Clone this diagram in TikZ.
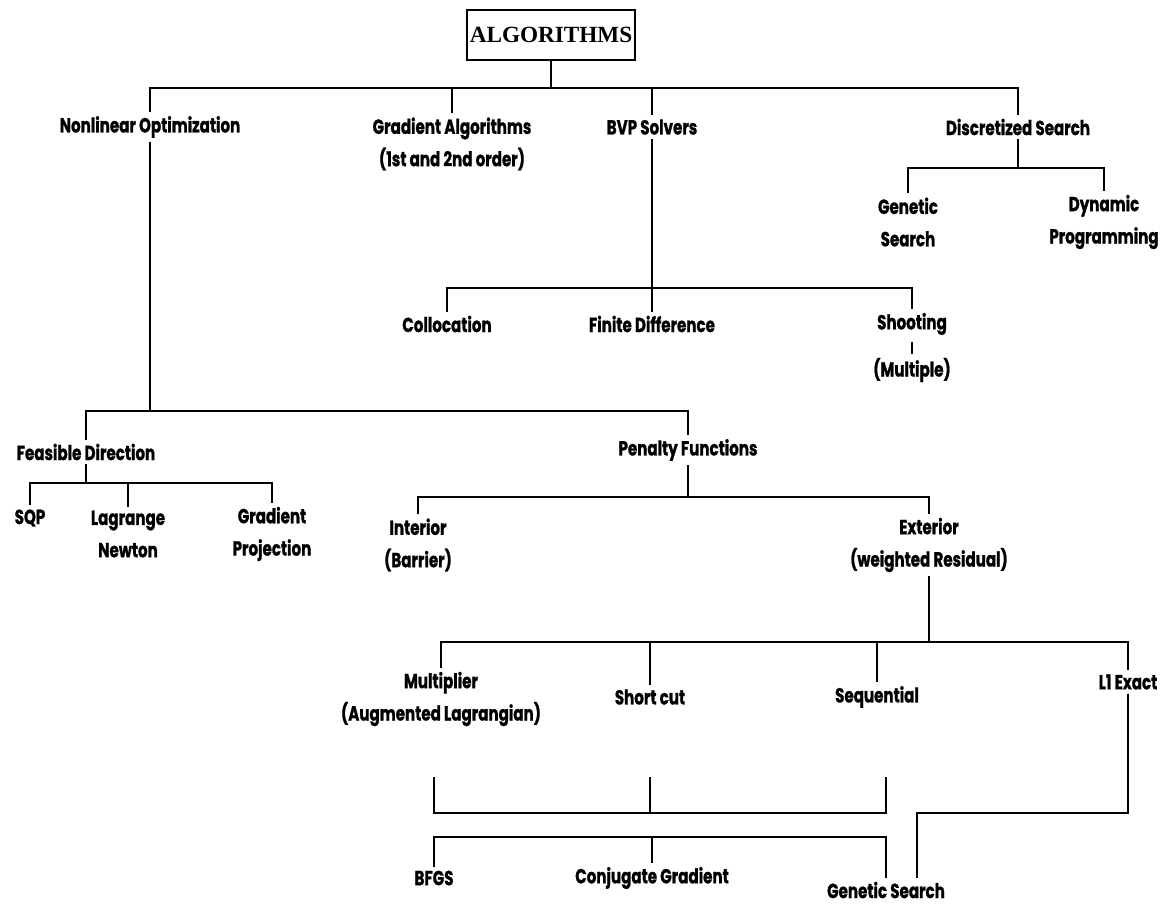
\documentclass[tikz,border=0pt]{standalone}
\usepackage{fontspec}
\setmainfont{Poppins}[FakeStretch=0.74, BoldFeatures={FakeBold=1}]
\newfontfamily\rootfont{Liberation Serif}

\begin{document}
\begin{tikzpicture}[x=0.025cm, y=-0.025cm, line width=1.8pt]
\tikzstyle{every node} = [font=\bfseries\fontsize{14.5}{23}\selectfont, align=center, inner sep=2pt]
\tikzstyle{rootbox} = [draw, line width=1.5pt, font=\rootfont\bfseries\fontsize{16.5}{18}\selectfont, minimum width=4.2cm, minimum height=1.25cm]
\useasboundingbox (0,0) rectangle (1173,905);

% bus heights
\coordinate (tbus) at (0,88);
\coordinate (dbus) at (0,168);
\coordinate (vbus) at (0,288);
\coordinate (nbus) at (0,411);
\coordinate (fbus) at (0,483);
\coordinate (pbus) at (0,497);
\coordinate (ebus) at (0,642);
\coordinate (jbus) at (0,813);
\coordinate (sbus) at (0,837);

\node[rootbox] (alg) at (551,35) {ALGORITHMS};

\node (nlo) at (150,127) {Nonlinear Optimization};
\node (grad) at (452,144) {Gradient Algorithms\\(1st and 2nd order)};
\node (bvp) at (652,127) {BVP Solvers};
\node (disc) at (1018,127) {Discretized Search};

\node (gen) at (908,222) {Genetic\\Search};
\node (dyn) at (1104,222) {Dynamic\\Programming};

\node (coll) at (447,324) {Collocation};
\node (fdiff) at (652,324) {Finite Difference};
\node (shoot) at (912,324) {Shooting};
\node (multip) at (912,370) {(Multiple)};

\node (feas) at (86,452) {Feasible Direction};
\node (pen) at (688,450) {Penalty Functions};

\node (sqp) at (30,518) {SQP};
\node (lag) at (128,534) {Lagrange\\Newton};
\node (gproj) at (272,534) {Gradient\\Projection};
\node (inter) at (418,545) {Interior\\(Barrier)};
\node (exter) at (929,545) {Exterior\\(weighted Residual)};

\node (multi) at (441,699) {Multiplier\\(Augmented Lagrangian)};
\node (short) at (650,697) {Short cut};
\node (seq) at (877,697) {Sequential};
\node (lone) at (1128,682) {L1 Exact};

\node (bfgs) at (434,878) {BFGS};
\node (conj) at (652,878) {Conjugate Gradient};
\node (gsearch) at (886,890) {Genetic Search};

% free ends of the merge lines
\coordinate (ja) at (434,777);
\coordinate (jb) at (650,777);
\coordinate (jc) at (886,777);
\coordinate (gsl) at (917,0);

% level 0 and 1
\draw (alg.south) -- (alg.south |- tbus);
\draw (nlo.north) |- (disc.north |- tbus) -- (disc.north);
\foreach \n in {grad, bvp}
\draw (\n.north) -- (\n.north |- tbus);

% discretized search
\draw (disc.south) -- (disc.south |- dbus);
\draw (gen.north) |- (dyn.north |- dbus) -- (dyn.north);

% bvp solvers
\draw (bvp.south) -- (fdiff.north);
\draw (coll.north) |- (shoot.north |- vbus) -- (shoot.north);
\draw [line width=1.2pt, shorten <=2pt] (shoot.south) -- (multip.north);

% nonlinear optimization
\draw (nlo.south) -- (nlo.south |- nbus);
\draw (feas.north) |- (pen.north |- nbus) -- (pen.north);
\draw (feas.south) -- (feas.south |- fbus);
\draw (sqp.north) |- (gproj.north |- fbus) -- (gproj.north);
\draw (lag.north) -- (lag.north |- fbus);

% penalty functions
\draw (pen.south) -- (pen.south |- pbus);
\draw (inter.north) |- (exter.north |- pbus) -- (exter.north);
\draw (exter.south) -- (exter.south |- ebus);
\draw (multi.north) |- (lone.north |- ebus) -- (lone.north);
\foreach \n in {short, seq}
\draw (\n.north) -- (\n.north |- ebus);

% merge and split
\draw (ja) |- (jc |- jbus) -- (jc);
\draw (jb) -- (jb |- jbus);
\draw (bfgs.north) |- (jc |- sbus) -- (jc |- gsearch.north);
\draw (conj.north) -- (conj.north |- sbus);
\draw (lone.south) |- (gsl |- jbus) -- (gsl |- gsearch.north);
\end{tikzpicture}
\end{document}
